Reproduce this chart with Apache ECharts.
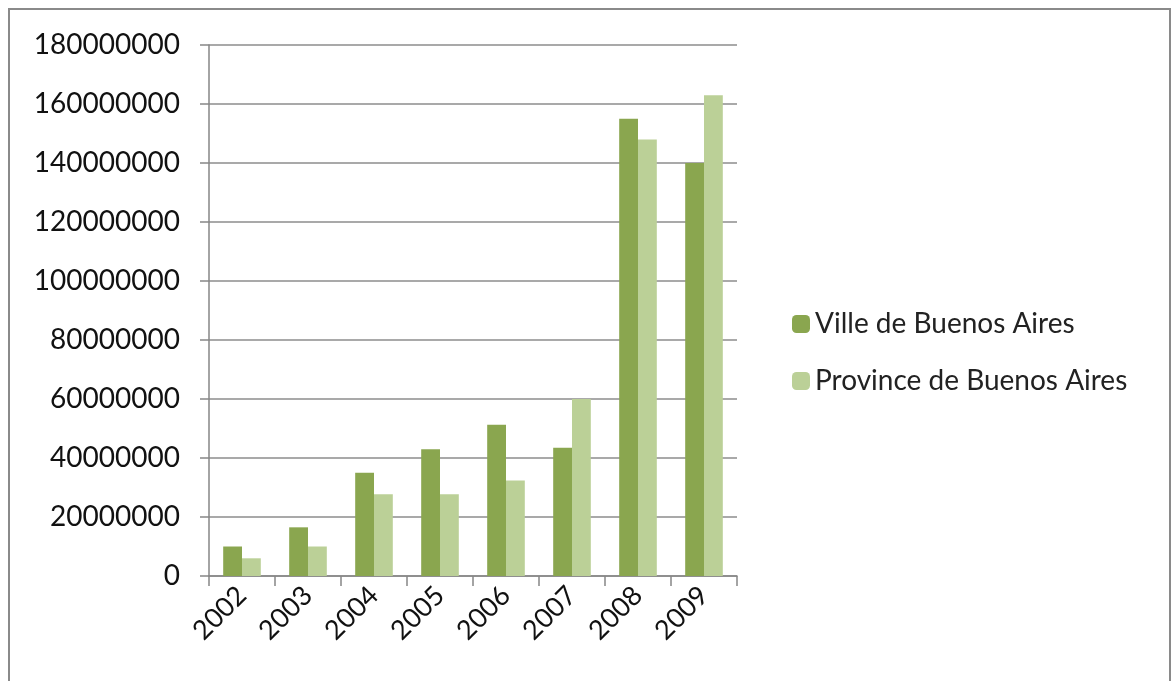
<!DOCTYPE html>
<html><head><meta charset="utf-8">
<script src="https://cdn.jsdelivr.net/npm/echarts@6/dist/echarts.min.js"></script>
<style>html,body{margin:0;padding:0;background:#fff}#c{width:1171px;height:681px}</style>
</head><body><div id="c"></div>
<script>
const categories = ['2002','2003','2004','2005','2006','2007','2008','2009'];
const villeValues = [10000000, 16500000, 35000000, 43000000, 51300000, 43500000, 155000000, 140000000];
const provinceValues = [6000000, 10000000, 27700000, 27700000, 32400000, 60000000, 148000000, 163000000];
const seriesNames = ['Ville de Buenos Aires', 'Province de Buenos Aires'];

const chart = echarts.init(document.getElementById('c'));
const fontFamily = 'Lato';
chart.setOption({
  animation: false,
  backgroundColor: '#fff',
  graphic: [{
    type: 'rect', shape: {x: 9, y: 9, width: 1161, height: 700},
    style: {fill: 'none', stroke: '#8a8a8a', lineWidth: 2}, silent: true
  }],
  grid: {left: 209, right: 434, top: 45, bottom: 105, containLabel: false},
  legend: {
    orient: 'vertical', left: 787, top: 305,
    itemWidth: 18, itemHeight: 18, itemGap: 29,
    textStyle: {fontFamily, fontSize: 28, color: '#222'},
    data: seriesNames
  },
  xAxis: {
    type: 'category', data: categories,
    axisLine: {lineStyle: {color: '#868686', width: 1.5}},
    axisTick: {show: true, alignWithLabel: false, length: 10, lineStyle: {color: '#868686', width: 1.5}},
    axisLabel: {rotate: 45, fontFamily, fontSize: 27, color: '#111', margin: 15, interval: 0}
  },
  yAxis: {
    type: 'value', min: 0, max: 180000000, interval: 20000000,
    axisLine: {show: true, lineStyle: {color: '#868686', width: 1.5}},
    axisTick: {show: true, inside: false, length: 9, lineStyle: {color: '#868686', width: 1.5}},
    splitLine: {lineStyle: {color: '#8c8c8c', width: 1.5}},
    axisLabel: {fontFamily, fontSize: 28, color: '#111', margin: 29, formatter: v => String(v)}
  },
  series: [
    {name: seriesNames[0], type: 'bar', data: villeValues, barGap: '0%', barCategoryGap: '43%',
     itemStyle: {color: '#8aa64f'}},
    {name: seriesNames[1], type: 'bar', data: provinceValues, barGap: '0%', barCategoryGap: '43%',
     itemStyle: {color: '#bbd097'}}
  ]
});
</script></body></html>
